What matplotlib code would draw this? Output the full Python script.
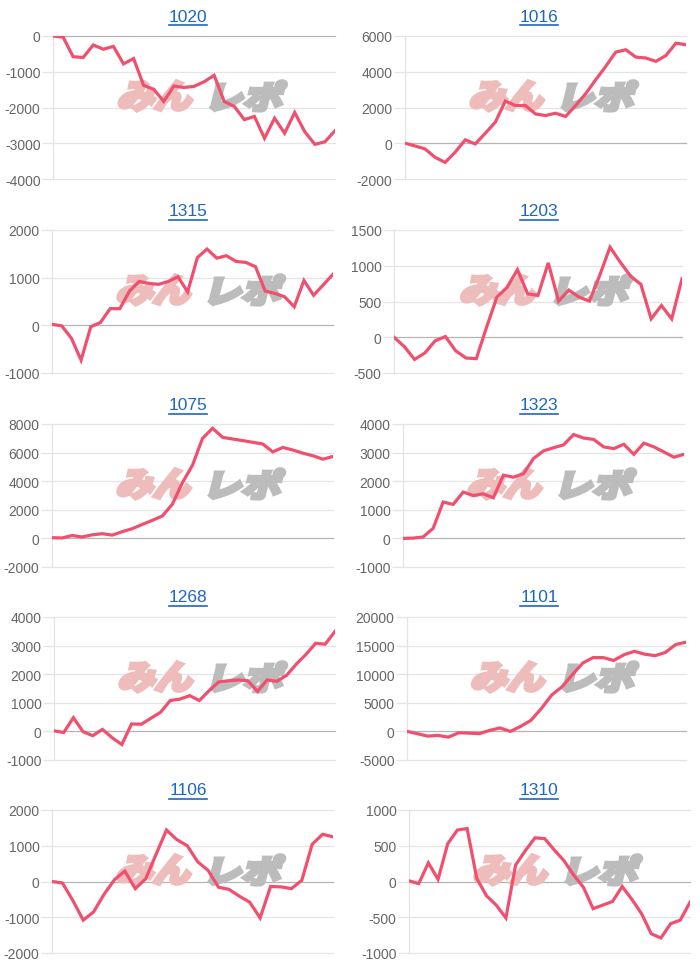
import matplotlib
matplotlib.use("Agg")
import matplotlib.pyplot as plt
import matplotlib.transforms as mtransforms
from matplotlib.font_manager import FontProperties
from matplotlib.textpath import TextPath
from matplotlib.patches import PathPatch
from matplotlib.lines import Line2D

plt.rcParams['font.family'] = ['Liberation Sans', 'DejaVu Sans']

W, H = 700, 970

# ---- data ----
titles = ["1020", "1016", "1315", "1203", "1075", "1323", "1268", "1101", "1106", "1310"]

v1020 = [0, -30, -580, -600, -250, -370, -290, -780, -630, -1380, -1490, -1830, -1400, -1440,
         -1410, -1280, -1100, -1830, -1970, -2340, -2250, -2860, -2300, -2720, -2140, -2680,
         -3030, -2960, -2650]
v1016 = [0, -150, -320, -790, -1070, -500, 190, -40, 560, 1180, 2360, 2110, 2110, 1640, 1550,
         1680, 1500, 2110, 2770, 3550, 4300, 5100, 5230, 4820, 4770, 4580, 4910, 5600, 5510]
v1315 = [20, -10, -270, -730, -30, 60, 350, 350, 720, 920, 880, 860, 920, 1020, 700, 1420, 1600,
         1410, 1460, 1340, 1320, 1230, 720, 670, 600, 390, 940, 630, 850, 1070]
v1203 = [0, -130, -310, -220, -50, 10, -190, -290, -300, 140, 560, 700, 945, 607, 585, 1040, 505,
         660, 560, 505, 865, 1260, 1050, 855, 740, 257, 444, 257, 818]
v1075 = [50, 30, 200, 100, 250, 330, 230, 470, 680, 980, 1260, 1570, 2400, 3900, 5120, 7000, 7700,
         7070, 6950, 6840, 6720, 6600, 6050, 6360, 6180, 5960, 5780, 5540, 5730]
v1323 = [0, 10, 50, 350, 1270, 1190, 1620, 1500, 1560, 1420, 2210, 2140, 2260, 2790, 3060, 3170,
         3270, 3630, 3510, 3460, 3200, 3140, 3290, 2940, 3330, 3200, 3020, 2840, 2940]
v1268 = [20, -40, 480, -10, -150, 70, -220, -460, 260, 250, 460, 670, 1080, 1130, 1250, 1080, 1420,
         1730, 1770, 1800, 1770, 1400, 1800, 1750, 1960, 2350, 2690, 3080, 3050, 3500]
v1101 = [0, -400, -820, -700, -1000, -250, -300, -400, 180, 600, 0, 880, 1940, 4000, 6350, 7800,
         9900, 11940, 12900, 12900, 12400, 13400, 14000, 13500, 13240, 13800, 15180, 15600]
v1106 = [0, -40, -530, -1080, -850, -360, 50, 290, -200, 75, 760, 1440, 1170, 1000, 550, 310, -160,
         -220, -410, -580, -1020, -140, -150, -200, 30, 1040, 1320, 1250]
v1310 = [10, -30, 260, 30, 530, 720, 740, 40, -200, -330, -510, 230, 430, 610, 600, 440, 290, 90,
         -80, -380, -330, -280, -70, -250, -450, -730, -790, -590, -540, -290]

series = [v1020, v1016, v1315, v1203, v1075, v1323, v1268, v1101, v1106, v1310]

y_min = [-4000, -2000, -1000, -500, -2000, -1000, -1000, -5000, -2000, -1000]
y_max = [0, 6000, 2000, 1500, 8000, 4000, 4000, 20000, 2000, 1000]
y_step = [1000, 2000, 1000, 500, 2000, 1000, 1000, 5000, 1000, 500]

# ---- layout (pixels) ----
plot_left = [53, 405, 52, 394, 52, 403, 54, 407, 52, 409]
plot_right = [335, 686, 333, 682, 333, 684, 335, 686, 333, 690]
row_top = [37, 231, 425, 618, 811]
row_h = 143
title_x = [188, 539]
title_y = [17, 212, 406, 598, 791]

LINE = "#f0506e"
GRID = "#e4e4e4"
ZERO = "#b4b4b4"
TICK = "#666666"
TITLE = "#1e66c4"

fig = plt.figure(figsize=(W / 100, H / 100), dpi=100)
fig.patch.set_facecolor("white")

wm_font = FontProperties(family="Noto Sans CJK JP", weight="bold")


def watermark(ax, text, fx0, fx1, fy0, fy1, color):
    tp = TextPath((0, 0), text, size=100, prop=wm_font)
    ext = tp.get_extents()
    bb = ax.get_position()
    axw, axh = bb.width * W, bb.height * H
    sx = (fx1 - fx0) * axw / ext.width
    sy = (fy1 - fy0) * axh / ext.height
    tr = (mtransforms.Affine2D().translate(-ext.x0, -ext.y0).scale(sx * 0.9, sy * 0.92).skew_deg(14, 0)
          + mtransforms.ScaledTranslation(fx0, fy0 + 0.01, ax.transAxes))
    # heavy strokes, like the blocky logo
    ax.add_patch(PathPatch(tp, transform=tr, facecolor=color, edgecolor=color, lw=3.2,
                           joinstyle="miter", zorder=1, clip_on=False))


title_texts = []
for i, name in enumerate(titles):
    row, col = divmod(i, 2)
    left = plot_left[i] / W
    width = (plot_right[i] - plot_left[i]) / W
    bottom = (H - row_top[row] - row_h) / H
    ax = fig.add_axes([left, bottom, width, row_h / H])
    vals = series[i]
    xs = list(range(len(vals)))

    watermark(ax, "みん", 0.23, 0.51, 0.47, 0.69, "#efbcbc")
    watermark(ax, "レポ", 0.56, 0.83, 0.47, 0.69, "#bcbcbc")

    ticks = list(range(y_min[i], y_max[i] + 1, y_step[i]))
    for t in ticks:
        ax.axhline(t, color=ZERO if t == 0 else GRID, lw=0.9, zorder=0.5, clip_on=False)
    ax.plot(xs, vals, color=LINE, lw=2.3, solid_joinstyle="miter", zorder=3)

    ax.set_xlim(0, len(vals) - 1)
    ax.set_ylim(y_min[i], y_max[i])
    ax.set_yticks(ticks)
    ax.set_yticklabels([str(t) for t in ticks])
    ax.set_xticks([])
    ax.tick_params(axis="y", length=8, width=0.9, color=GRID, labelsize=10,
                   labelcolor=TICK, pad=1)
    for s in ["top", "right", "bottom"]:
        ax.spines[s].set_visible(False)
    ax.spines["left"].set_color(GRID)
    ax.spines["left"].set_linewidth(0.9)
    ax.set_facecolor("none")

    t = fig.text(title_x[col] / W, 1 - title_y[row] / H, name, ha="center", va="center",
                 fontsize=12.5, color=TITLE)
    title_texts.append((t, row, col))

# underline the titles
fig.canvas.draw()
r = fig.canvas.get_renderer()
for t, row, col in title_texts:
    bb = t.get_window_extent(r)
    yy = (H - title_y[row] - 9) / H
    fig.add_artist(Line2D([bb.x0 / W, bb.x1 / W], [yy, yy], color=TITLE, lw=1.2))

fig.savefig("out.png", dpi=100, facecolor="white")
